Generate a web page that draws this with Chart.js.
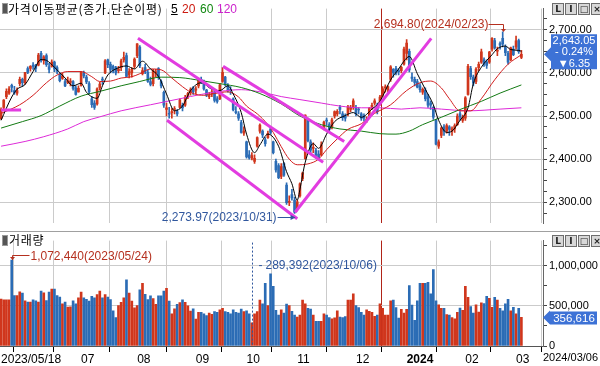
<!DOCTYPE html>
<html>
<head>
<meta charset="utf-8">
<script src="https://cdn.jsdelivr.net/npm/chart.js@4.4.1/dist/chart.umd.min.js"></script>
<style>
  body { margin: 0; background: #fff; width: 600px; height: 366px; overflow: hidden; position: relative; }
  canvas { position: absolute; left: 0; }
  #price { top: 0; }
  #vol { top: 232px; }
  .hd { position: absolute; font: 12px "Noto Sans CJK KR", sans-serif; line-height: 14px; color: #000; white-space: nowrap; letter-spacing: 0.7px; }
  .num { position: absolute; font: 12px "Liberation Sans", sans-serif; line-height: 14px; }
  .icon { position: absolute; width: 4px; height: 9px; background: #555; border: 1px solid #999; }
  .sep { position: absolute; left: 0; width: 600px; height: 1px; background: #a0a0a0; }
  .btns { position: absolute; left: 552px; height: 11px; display: flex; gap: 1px; }
  .btns span { width: 10px; height: 10px; border: 1px solid #6d6d6d; background: #d8d8d8; font: bold 9px "DejaVu Sans", sans-serif; line-height: 10px; text-align: center; color: #222; }
</style>
</head>
<body>
<canvas id="price" width="600" height="232"></canvas>
<canvas id="vol" width="600" height="134"></canvas>

<div class="icon" style="left:2px;top:3px"></div>
<div class="hd" style="left:8px;top:2px">가격이동평균(종가.단순이평)</div>
<div class="num" style="left:171px;top:2px;text-decoration:underline">5</div>
<div class="num" style="left:182px;top:2px;color:#cc1a10">20</div>
<div class="num" style="left:200px;top:2px;color:#118811">60</div>
<div class="num" style="left:217px;top:2px;color:#cc22cc">120</div>
<div class="btns" style="top:3px"><span>L</span><span>I</span><span>□</span><span>×</span></div>

<div class="sep" style="top:231px"></div>
<div class="icon" style="left:2px;top:235px"></div>
<div class="hd" style="left:9px;top:233px">거래량</div>
<div class="btns" style="top:235px"><span>L</span><span>I</span><span>□</span><span>×</span></div>

<script>
// KOSPI daily, 2023/05/18 .. 2024/03/06 (196 trading days)
const open = [2494,2520,2545,2553,2571,2559,2553,2575,2585,
  2577,2610,2610,2618,2618,2618,2645,2628,2640,2614,2615,2625,2612,2597,2587,2580,2578,2578,2580,2565,2556,
  2571,2600,2590,2575,2540,2530,2528,2565,2585,2600,2630,2620,2615,2612,2605,2612,2630,2640,2595,2600,2615,
  2640,2660,2598,2612,2601,2580,2575,2600,2610,2580,2555,2515,2505,2508,2515,2510,2520,2525,2525,2545,2555,2565,
  2560,2570,2585,2580,2560,2545,2552,2556,2540,2540,2580,2590,2570,2562,2540,2510,2505,2485,2460,
  2440,2410,2402,2395,2430,2465,2465,2445,2450,2470,2440,2395,2385,2360,2390,2340,2300,2318,2305,
  2285,2315,2355,2401,2490,2440,2425,2420,2412,2410,2470,2490,2480,2475,2500,2505,2520,2505,2500,2505,2515,2520,
  2520,2515,2505,2500,2490,2500,2520,2530,2525,2530,2550,2565,2560,2585,2608,2610,2605,2605,2620,
  2645,2650,2590,2585,2580,2570,2555,2560,2545,2530,2520,2490,2430,2455,2475,2465,2475,2465,2470,2480,2505,2490,
  2495,2550,2610,2590,2580,2612,2625,2630,2625,2625,2655,2675,2650,2668,2680,2660,2645,2630,2655,
  2660,2675,2636];
const high = [2519,2538,2563,2568,2574,2569,2565,2590,2588,
  2601,2614,2617,2624,2620,2645,2650,2640,2644,2622,2630,2627,2616,2600,2599,2585,2590,2587,2582,2570,2570,
  2603,2604,2595,2580,2545,2536,2565,2578,2590,2631,2632,2625,2618,2615,2615,2632,2648,2646,2610,2612,2635,
  2668,2663,2612,2620,2606,2590,2608,2608,2612,2584,2558,2530,2520,2517,2522,2515,2540,2530,2548,2555,2565,2568,
  2568,2588,2590,2583,2562,2555,2560,2558,2545,2575,2612,2592,2575,2568,2542,2522,2510,2490,2475,
  2442,2420,2415,2410,2452,2482,2468,2450,2465,2475,2442,2400,2390,2390,2392,2345,2315,2330,2312,
  2305,2345,2370,2503,2495,2445,2438,2425,2420,2440,2488,2495,2485,2495,2512,2515,2525,2510,2505,2525,2525,2540,
  2525,2520,2508,2505,2498,2520,2530,2540,2530,2548,2568,2572,2570,2617,2610,2615,2610,2615,2660,
  2677,2655,2600,2590,2585,2575,2565,2565,2550,2535,2522,2492,2445,2475,2480,2482,2478,2475,2482,2505,2510,2502,
  2545,2620,2615,2595,2612,2625,2655,2635,2630,2650,2682,2680,2660,2672,2694.8,2665,2650,2660,2662,
  2685,2678,2652];
const low = [2492,2515,2540,2550,2556,2550,2548,2570,2570,
  2573,2598,2604,2608,2603,2616,2625,2620,2615,2600,2613,2603,2598,2579,2585,2568,2575,2570,2560,2548,2555,
  2569,2588,2575,2552,2520,2515,2525,2560,2573,2598,2612,2600,2600,2595,2600,2605,2625,2590,2588,2590,2610,
  2635,2612,2595,2598,2578,2570,2570,2590,2585,2565,2520,2500,2495,2495,2505,2500,2518,2512,2522,2540,2548,2550,
  2552,2565,2575,2560,2545,2540,2545,2532,2530,2538,2578,2570,2555,2550,2512,2505,2490,2460,2455,
  2402,2400,2398,2390,2428,2460,2450,2430,2448,2458,2412,2370,2355,2355,2360,2295,2292,2305,2273.97,
  2280,2312,2350,2400,2440,2415,2415,2402,2398,2408,2468,2478,2465,2470,2495,2500,2505,2490,2488,2500,2510,2515,
  2500,2505,2490,2488,2485,2498,2515,2525,2505,2525,2545,2555,2555,2580,2590,2595,2595,2600,2618,
  2630,2602,2580,2570,2565,2555,2550,2535,2520,2515,2492,2433,2425,2450,2455,2460,2455,2455,2462,2478,2490,2485,
  2490,2548,2585,2570,2575,2605,2622,2615,2610,2622,2650,2655,2640,2655,2660,2640,2620,2628,2640,
  2655,2645,2633];
const close = [2515,2537,2557,2563,2566,2554,2559,2585,2577,
  2601,2601,2615,2615,2610,2641,2629,2637,2619,2608,2625,2609,2604,2582,2593,2570,2582,2581,2564,2550,2564,
  2602,2593,2579,2556,2526,2520,2563,2574,2583,2628,2619,2608,2608,2600,2609,2628,2636,2592,2603,2608,2632,
  2667,2616,2605,2602,2580,2573,2605,2601,2591,2570,2525,2519,2504,2508,2515,2505,2537,2519,2543,2552,2561,2556,
  2563,2584,2582,2563,2548,2547,2556,2536,2534,2572,2601,2574,2559,2559,2514,2508,2495,2462,2465,
  2405,2403,2408,2402,2450,2479,2456,2436,2460,2462,2415,2375,2357,2383,2363,2299,2302,2310,2277,
  2301,2343,2368,2502,2443,2421,2427,2409,2403,2433,2486,2488,2469,2491,2510,2511,2515,2496,2495,2521,2520,2535,
  2505,2514,2495,2495,2492,2518,2525,2535,2510,2544,2563,2566,2568,2614,2600,2599,2603,2613,2655,
  2669,2607,2587,2578,2567,2561,2562,2540,2525,2525,2497,2435,2440,2472,2464,2478,2469,2470,2478,2500,2498,2497,
  2542,2615,2591,2576,2609,2620,2649,2620,2617,2648,2680,2658,2653,2664,2667,2647,2625,2658,2642,
  2674,2649,2643.05];
const volume = [584000,576000,576000,576000,1072440,629000,629000,675000,660000,564000,549000,549000,576000,564000,549000,686000,663000,568000,671000,709000,709000,629000,610000,526000,549000,484000,488000,564000,526000,602000,671000,602000,583000,
  560000,620000,600000,640000,686000,600000,640000,610000,580000,438000,355000,505000,545000,600000,824000,660000,560000,477000,503000,700000,781000,645000,580000,625000,590000,520000,625000,625000,686000,720000,560000,400000,465000,520000,540000,576000,545000,500000,435000,465000,335000,420000,
  420000,400000,380000,410000,395000,430000,420000,450000,470000,430000,420000,400000,450000,420000,410000,460000,430000,440000,400000,289392,400000,430000,
  572000,526000,781000,503000,900000,744000,446000,385000,450000,412000,522000,503000,431000,385000,362000,385000,572000,526000,469000,461000,385000,309000,309000,309000,400000,385000,355000,340000,350000,438000,362000,355000,366000,572000,572000,652000,503000,480000,420000,385000,450000,431000,420000,370000,385000,526000,469000,385000,385000,564000,572000,480000,
  347000,457000,412000,457000,755000,511000,320000,564000,781000,781000,781000,793000,652000,953000,564000,515000,469000,469000,393000,385000,355000,340000,420000,473000,446000,744000,606000,492000,412000,515000,423000,538000,530000,618000,595000,481000,606000,572000,469000,438000,526000,583000,438000,481000,400000,469000,356616];

// moving averages as [day index, value]
const ma5 = [[0,2490],[4,2544],[6,2562],[9,2573],[12,2603],[15,2631],[17,2629],[20,2613],[24,2588],[27,2570],[30,2576],[32,2555],[36,2541],[38,2570],[40,2595],[43,2609],[47,2616],[50,2609],[53,2627],[56,2609],[59,2592],[62,2551],[65,2512],[68,2523],[71,2559],[75,2577],[79,2562],[82,2559],[85,2570],[87,2551],[90,2508],[92,2458],[95,2415],[97,2433],[100,2458],[104,2430],[107,2371],[109,2343],[111,2305],[112,2330],[114,2393],[117,2436],[119,2425],[122,2458],[125,2487],[129,2501],[132,2508],[135,2497],[139,2516],[142,2534],[146,2584],[149,2609],[151,2627],[153,2638],[156,2598],[159,2562],[162,2526],[164,2490],[167,2462],[169,2465],[172,2490],[175,2519],[177,2575],[180,2613],[184,2642],[186,2656],[189,2662],[191,2654],[194,2652],[195,2650]];
const ma20 = [[0,2506],[7,2526],[12,2548],[17,2577],[21,2595],[25,2603],[30,2603],[34,2591],[37,2580],[41,2581],[45,2588],[49,2591],[52,2598],[56,2609],[60,2607],[64,2588],[68,2568],[72,2552],[76,2548],[80,2552],[85,2556],[89,2544],[92,2523],[96,2505],[100,2480],[102,2462],[105,2429],[108,2400],[111,2387],[115,2389],[119,2400],[122,2422],[126,2447],[130,2469],[135,2482],[140,2506],[146,2526],[152,2559],[157,2577],[161,2581],[165,2565],[168,2540],[172,2512],[176,2512],[180,2540],[185,2584],[190,2620],[195,2642]];
const ma60 = [[0,2472],[8,2487],[15,2501],[22,2523],[30,2546],[37,2557],[45,2570],[52,2580],[60,2590],[67,2589],[75,2582],[82,2575],[90,2566],[97,2552],[105,2528],[112,2500],[120,2480],[127,2470],[135,2465],[142,2459],[148,2458],[153,2465],[158,2480],[165,2497],[172,2515],[180,2534],[187,2553],[195,2572]];
const ma120 = [[0,2430],[9,2441],[16,2452],[25,2470],[31,2487],[37,2498],[45,2512],[56,2526],[67,2540],[75,2550],[82,2557],[90,2561],[97,2556],[105,2545],[112,2538],[120,2530],[127,2523],[135,2519],[142,2519],[150,2516],[157,2519],[165,2516],[175,2512],[187,2516],[195,2519]];

// hand-drawn trend lines [day index, price]
const trendLines = [
  [[0,2514],[7.5,2514]],
  [[51.3,2680],[120.7,2393]],
  [[83.2,2615],[128.6,2441]],
  [[62.2,2490],[111,2262]],
  [[110.2,2277],[161.2,2680]]
];

const axisIdx = [0, 9, 30, 51, 73, 92, 111, 133, 152, 174, 193];
const axisLabels = ['2023/05/18', '', '07', '08', '09', '10', '11', '12', '2024', '02', '03'];
const yearIdx = 152;
const lastDate = '2024/03/06';
const hiIdx = 188, hiText = '2,694.80(2024/02/23)';
const loIdx = 110, loText = '2,273.97(2023/10/31)';
const vHiIdx = 4, vHiText = '1,072,440(2023/05/24)';
const vLoIdx = 94, vLoText = '289,392(2023/10/06)';
const lastPrice = 2643.05, lastLines = ['2,643.05', '- 0.24%', '▼6.35'];
const lastVol = 356616, lastVolText = '356,616';

const UP = '#d0361c', DOWN = '#2b6cb5';
const GRID = '#cbcbcb', YEAR = '#b02418';
const RED_TXT = '#b5301f', BLUE_TXT = '#30579e', TREND = '#e23ce0';
const BOX = '#3d72d6';
const X_MIN = -0.4, X_MAX = 203.1;
const FONT = '"Liberation Sans", Arial, sans-serif';

Chart.defaults.font.family = FONT;

const days = close.map((_, i) => i);
const colors = days.map(i => close[i] >= open[i] ? UP : DOWN);
const pts = a => a.map(([x, y]) => ({ x, y }));
const fmt = (v, d) => v.toLocaleString('en-US', { minimumFractionDigits: d, maximumFractionDigits: d });

function xScale(ticks, showLabels) {
  return {
    type: 'linear', min: X_MIN, max: X_MAX, offset: false, bounds: 'data',
    afterBuildTicks: s => { s.ticks = ticks.map(v => ({ value: v })); },
    grid: {
      color: c => c.tick && c.tick.value === yearIdx ? YEAR : (c.tick && c.tick.value === 0 ? 'rgba(0,0,0,0)' : GRID),
      drawTicks: showLabels, tickLength: 6, tickColor: '#000'
    },
    border: { display: showLabels, color: '#555' },
    ticks: {
      display: showLabels, align: 'start', autoSkip: false, maxRotation: 0, padding: 0, color: '#000',
      font: c => ({ family: FONT, size: 12, weight: c.tick && c.tick.label === '2024' ? 'bold' : 'normal' }),
      callback: v => { const k = axisIdx.indexOf(v); return k < 0 ? '' : axisLabels[k]; }
    },
    afterFit: s => { s.height = showLabels ? 20 : 0; s.paddingLeft = 0; s.paddingRight = 0; }
  };
}

function yScale(min, max, step, major, labelFmt) {
  return {
    position: 'right', min, max, bounds: 'data',
    afterBuildTicks: s => {
      const t = [];
      for (let v = Math.ceil(min / step) * step; v < max; v += step) t.push({ value: v });
      s.ticks = t;
    },
    grid: { color: c => c.tick && c.tick.value % major === 0 ? GRID : 'rgba(0,0,0,0)', tickLength: 4, tickColor: '#444' },
    border: { color: '#666' },
    ticks: { autoSkip: false, padding: 2, color: '#000', font: { size: 11 }, callback: v => v % major === 0 ? labelFmt(v) : '' },
    afterFit: s => { s.width = 57; }
  };
}

function arrowDown(ctx, x, y) {
  ctx.beginPath(); ctx.moveTo(x - 2.5, y - 3); ctx.lineTo(x + 2.5, y - 3); ctx.lineTo(x, y); ctx.closePath(); ctx.fill();
}

function sideBox(ctx, left, yMid, top, bottom, lines, size) {
  ctx.fillStyle = BOX;
  ctx.beginPath();
  ctx.moveTo(left, yMid);
  ctx.lineTo(left + 7, yMid - 7);
  ctx.lineTo(left + 7, top);
  ctx.lineTo(597, top);
  ctx.lineTo(597, bottom);
  ctx.lineTo(left + 7, bottom);
  ctx.lineTo(left + 7, yMid + 7);
  ctx.closePath();
  ctx.fill();
  ctx.fillStyle = '#fff';
  ctx.font = size + 'px ' + FONT;
  ctx.textAlign = 'center';
  ctx.textBaseline = 'middle';
  const h = (bottom - top) / lines.length;
  lines.forEach((t, k) => ctx.fillText(t, 574, top + h * (k + 0.5) + 0.5));
}

const priceNotes = {
  id: 'priceNotes',
  afterDraw(chart) {
    const { ctx, scales: { x, y } } = chart;
    ctx.save();
    ctx.font = '12px ' + FONT;
    ctx.lineWidth = 1;
    // highest high
    const hx = Math.round(x.getPixelForValue(hiIdx)) + 0.5, hy = y.getPixelForValue(high[hiIdx]);
    const ty = Math.round(hy - 8) + 0.5;
    ctx.fillStyle = RED_TXT; ctx.strokeStyle = RED_TXT;
    ctx.textAlign = 'right'; ctx.textBaseline = 'middle';
    ctx.fillText(hiText, hx - 15, ty);
    ctx.beginPath(); ctx.moveTo(hx - 15, ty); ctx.lineTo(hx, ty); ctx.lineTo(hx, hy - 2); ctx.stroke();
    arrowDown(ctx, hx, hy);
    // lowest low
    const lx = x.getPixelForValue(loIdx), ly = y.getPixelForValue(low[loIdx]);
    const by = Math.round(ly + 3.5) + 0.5;
    ctx.fillStyle = BLUE_TXT; ctx.strokeStyle = BLUE_TXT;
    ctx.fillText(loText, lx - 18, by);
    ctx.beginPath(); ctx.moveTo(lx - 17, by); ctx.lineTo(lx, by); ctx.stroke();
    ctx.beginPath(); ctx.moveTo(lx + 1, by); ctx.lineTo(lx - 4, by - 2.5); ctx.lineTo(lx - 4, by + 2.5); ctx.closePath(); ctx.fill();
    // last price box
    const py = y.getPixelForValue(lastPrice);
    sideBox(ctx, 544, py, py - 20, py + 15, lastLines, 11);
    ctx.restore();
  }
};

const volNotes = {
  id: 'volNotes',
  afterDraw(chart) {
    const { ctx, scales: { x, y }, chartArea } = chart;
    ctx.save();
    ctx.font = '12px ' + FONT;
    ctx.lineWidth = 1;
    // biggest volume
    const hx = Math.round(x.getPixelForValue(vHiIdx)) + 0.5, hy = y.getPixelForValue(volume[vHiIdx]);
    const ty = Math.round(hy - 5) + 0.5;
    ctx.fillStyle = RED_TXT; ctx.strokeStyle = RED_TXT;
    ctx.textAlign = 'left'; ctx.textBaseline = 'middle';
    ctx.fillText(vHiText, hx + 18, ty + 1);
    ctx.beginPath(); ctx.moveTo(hx + 17, ty); ctx.lineTo(hx, ty); ctx.lineTo(hx, hy); ctx.stroke();
    arrowDown(ctx, hx, hy);
    // smallest volume
    const lx = Math.round(x.getPixelForValue(vLoIdx)) + 0.5;
    ctx.strokeStyle = BLUE_TXT; ctx.fillStyle = BLUE_TXT;
    ctx.setLineDash([2, 2]);
    ctx.beginPath(); ctx.moveTo(lx, chartArea.top + 2); ctx.lineTo(lx, chartArea.bottom); ctx.stroke();
    ctx.setLineDash([]);
    ctx.fillText('-', lx + 6, 34);
    ctx.fillText(vLoText, lx + 13, 34);
    // last volume box
    const py = y.getPixelForValue(lastVol);
    sideBox(ctx, 543, py, py - 6, py + 7, [lastVolText], 11.5);
    // last date
    ctx.fillStyle = '#000'; ctx.textAlign = 'left'; ctx.textBaseline = 'top';
    ctx.font = '11px ' + FONT;
    ctx.fillText(lastDate, 543, chartArea.bottom + 6);
    ctx.restore();
  }
};

const base = {
  responsive: false, animation: false, events: [], devicePixelRatio: 1,
  plugins: { legend: { display: false }, tooltip: { enabled: false } }
};

const lineSet = (data, color, width, order) => ({
  type: 'line', data: pts(data), borderColor: color, borderWidth: width, pointRadius: 0,
  cubicInterpolationMode: 'monotone', order
});

new Chart(document.getElementById('price'), {
  type: 'bar',
  data: {
    datasets: [
      ...trendLines.map(t => ({ type: 'line', data: pts(t), borderColor: TREND, borderWidth: 3, pointRadius: 0, order: 0 })),
      lineSet(ma5, '#000', 1, 1),
      lineSet(ma20, '#d21e1e', 1, 2),
      lineSet(ma60, '#137a13', 1, 3),
      lineSet(ma120, '#dd2ad8', 1, 4),
      { data: days.map(i => ({ x: i, y: [open[i], close[i]] })), backgroundColor: colors, barThickness: 2, grouped: false, minBarLength: 1, order: 5 },
      { data: days.map(i => ({ x: i, y: [low[i], high[i]] })), backgroundColor: colors, barThickness: 1, grouped: false, order: 6 }
    ]
  },
  options: {
    ...base,
    layout: { padding: { left: 0, right: 0, top: 0, bottom: 1 } },
    scales: {
      x: xScale(axisIdx.slice(1), false),
      y: yScale(2251.1, 2748.9, 25, 100, v => fmt(v, 2))
    }
  },
  plugins: [priceNotes]
});

new Chart(document.getElementById('vol'), {
  type: 'bar',
  data: {
    datasets: [
      { data: days.map(i => ({ x: i, y: volume[i] })), backgroundColor: colors, barThickness: 2, grouped: false }
    ]
  },
  options: {
    ...base,
    layout: { padding: 0 },
    scales: {
      x: xScale(axisIdx, true),
      y: yScale(0, 1314500, 250000, 500000, v => fmt(v, 0))
    }
  },
  plugins: [volNotes]
});
</script>
</body>
</html>
